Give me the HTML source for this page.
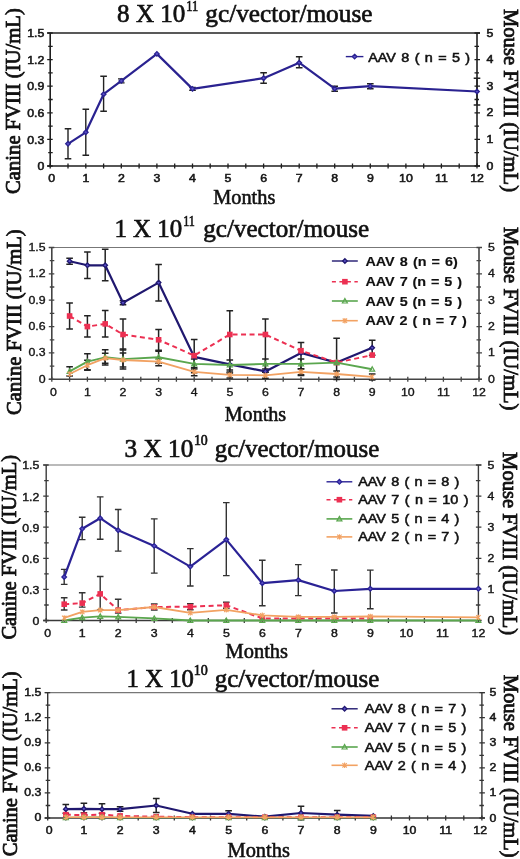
<!DOCTYPE html>
<html><head><meta charset="utf-8"><title>FVIII</title><style>
html,body{margin:0;padding:0;background:#fff;width:520px;height:859px;overflow:hidden}
svg{display:block;will-change:transform}
.tk{font-family:"Liberation Sans",sans-serif;font-size:11px;fill:#151515;stroke:#151515;stroke-width:0.7px}
.ti{font-family:"Liberation Serif",serif;font-size:24.5px;fill:#111;stroke:#111;stroke-width:0.65px}
.sup{font-family:"Liberation Serif",serif;font-size:14px;fill:#111;stroke:#111;stroke-width:0.6px}
.mo{font-family:"Liberation Serif",serif;font-size:20px;fill:#111;stroke:#111;stroke-width:0.55px}
.yl{font-family:"Liberation Serif",serif;font-size:20.5px;fill:#111;stroke:#111;stroke-width:0.8px}
.lg{font-family:"Liberation Sans",sans-serif;font-weight:bold;font-size:12px;fill:#111;stroke:#111;stroke-width:0.15px}
.lgl{font-family:"Liberation Sans",sans-serif;font-size:12px;fill:#111;stroke:#111;stroke-width:0.5px}
</style></head>
<body><svg width="520" height="859" viewBox="0 0 520 859">
<rect width="520" height="859" fill="#fff"/>
<line x1="47.2" y1="33" x2="480" y2="33" stroke="#222" stroke-width="1.6"/>
<line x1="50.2" y1="33" x2="50.2" y2="166" stroke="#1e1e1e" stroke-width="1.6"/>
<line x1="477" y1="33" x2="477" y2="166" stroke="#1e1e1e" stroke-width="1.6"/>
<line x1="47.2" y1="166" x2="480" y2="166" stroke="#1e1e1e" stroke-width="1.6"/>
<path d="M47.2 166H52.7M474.5 166H480M48.2 152.7H52.7M474.5 152.7H479M47.2 139.4H52.7M474.5 139.4H480M48.2 126.1H52.7M474.5 126.1H479M47.2 112.8H52.7M474.5 112.8H480M48.2 99.5H52.7M474.5 99.5H479M47.2 86.2H52.7M474.5 86.2H480M48.2 72.9H52.7M474.5 72.9H479M47.2 59.6H52.7M474.5 59.6H480M48.2 46.3H52.7M474.5 46.3H479M47.2 33H52.7M474.5 33H480M50.2 163.5V168.5M68 163.5V168.5M85.8 163.5V168.5M103.6 163.5V168.5M121.3 163.5V168.5M139.1 163.5V168.5M156.9 163.5V168.5M174.7 163.5V168.5M192.5 163.5V168.5M210.2 163.5V168.5M228 163.5V168.5M245.8 163.5V168.5M263.6 163.5V168.5M281.4 163.5V168.5M299.2 163.5V168.5M316.9 163.5V168.5M334.7 163.5V168.5M352.5 163.5V168.5M370.3 163.5V168.5M388.1 163.5V168.5M405.9 163.5V168.5M423.7 163.5V168.5M441.4 163.5V168.5M459.2 163.5V168.5M477 163.5V168.5" stroke="#1e1e1e" stroke-width="1.3" fill="none"/>
<text transform="translate(44.3,170.2) scale(1.12,1)" text-anchor="end" class="tk" style="stroke-width:0.55px">0</text>
<text transform="translate(44.3,143.6) scale(1.12,1)" text-anchor="end" class="tk" style="stroke-width:0.55px">0.3</text>
<text transform="translate(44.3,117) scale(1.12,1)" text-anchor="end" class="tk" style="stroke-width:0.55px">0.6</text>
<text transform="translate(44.3,90.4) scale(1.12,1)" text-anchor="end" class="tk" style="stroke-width:0.55px">0.9</text>
<text transform="translate(44.3,63.8) scale(1.12,1)" text-anchor="end" class="tk" style="stroke-width:0.55px">1.2</text>
<text transform="translate(44.3,37.2) scale(1.12,1)" text-anchor="end" class="tk" style="stroke-width:0.55px">1.5</text>
<text transform="translate(486.5,169.5) scale(1.12,1)" text-anchor="start" class="tk" style="stroke-width:0.55px">0</text>
<text transform="translate(486.5,142.9) scale(1.12,1)" text-anchor="start" class="tk" style="stroke-width:0.55px">1</text>
<text transform="translate(486.5,116.3) scale(1.12,1)" text-anchor="start" class="tk" style="stroke-width:0.55px">2</text>
<text transform="translate(486.5,89.7) scale(1.12,1)" text-anchor="start" class="tk" style="stroke-width:0.55px">3</text>
<text transform="translate(486.5,63.1) scale(1.12,1)" text-anchor="start" class="tk" style="stroke-width:0.55px">4</text>
<text transform="translate(486.5,36.5) scale(1.12,1)" text-anchor="start" class="tk" style="stroke-width:0.55px">5</text>
<text transform="translate(51.7,181.5) scale(1.12,1)" text-anchor="middle" class="tk" style="stroke-width:0.55px">0</text>
<text transform="translate(85.8,181.5) scale(1.12,1)" text-anchor="middle" class="tk" style="stroke-width:0.55px">1</text>
<text transform="translate(121.3,181.5) scale(1.12,1)" text-anchor="middle" class="tk" style="stroke-width:0.55px">2</text>
<text transform="translate(156.9,181.5) scale(1.12,1)" text-anchor="middle" class="tk" style="stroke-width:0.55px">3</text>
<text transform="translate(192.5,181.5) scale(1.12,1)" text-anchor="middle" class="tk" style="stroke-width:0.55px">4</text>
<text transform="translate(228,181.5) scale(1.12,1)" text-anchor="middle" class="tk" style="stroke-width:0.55px">5</text>
<text transform="translate(263.6,181.5) scale(1.12,1)" text-anchor="middle" class="tk" style="stroke-width:0.55px">6</text>
<text transform="translate(299.2,181.5) scale(1.12,1)" text-anchor="middle" class="tk" style="stroke-width:0.55px">7</text>
<text transform="translate(334.7,181.5) scale(1.12,1)" text-anchor="middle" class="tk" style="stroke-width:0.55px">8</text>
<text transform="translate(370.3,181.5) scale(1.12,1)" text-anchor="middle" class="tk" style="stroke-width:0.55px">9</text>
<text transform="translate(405.9,181.5) scale(1.12,1)" text-anchor="middle" class="tk" style="stroke-width:0.55px">10</text>
<text transform="translate(441.4,181.5) scale(1.12,1)" text-anchor="middle" class="tk" style="stroke-width:0.55px">11</text>
<text transform="translate(477,181.5) scale(1.12,1)" text-anchor="middle" class="tk" style="stroke-width:0.55px">12</text>
<text x="117.1" y="21.9" class="ti" textLength="68.31" lengthAdjust="spacingAndGlyphs">8 X 10</text>
<text x="186.3" y="10.8" class="sup" textLength="11.97" lengthAdjust="spacingAndGlyphs">11</text>
<text x="205.3" y="21.9" class="ti" textLength="167.16" lengthAdjust="spacingAndGlyphs">gc/vector/mouse</text>
<text x="213.2" y="203.8" class="mo" textLength="62.12" lengthAdjust="spacingAndGlyphs">Months</text>
<text transform="translate(20.3,193.9) rotate(-90)" class="yl" textLength="185.65" lengthAdjust="spacingAndGlyphs">Canine FVIII (IU/mL)</text>
<text transform="translate(504,9) rotate(90)" class="yl" textLength="183.00" lengthAdjust="spacingAndGlyphs">Mouse FVIII (IU/mL)</text>
<path d="M68 128.8V158.8M64.7 128.8H71.3M64.7 158.8H71.3M85.8 109.3V155.3M82.5 109.3H89.1M82.5 155.3H89.1M103.6 76.2V111.2M100.3 76.2H106.9M100.3 111.2H106.9M121.3 78.9V82.9M118 78.9H124.6M118 82.9H124.6M192.5 87.4V90.4M189.2 87.4H195.8M189.2 90.4H195.8M263.6 72.7V83.2M260.3 72.7H266.9M260.3 83.2H266.9M299.2 56.7V67.7M295.9 56.7H302.5M295.9 67.7H302.5M334.7 86.2V91.2M331.4 86.2H338M331.4 91.2H338M370.3 83.7V88.7M367 83.7H373.6M367 88.7H373.6M477 78.3V105M473.7 78.3H480.3M473.7 105H480.3" stroke="#222" stroke-width="1.4" fill="none"/>
<path d="M68 143.8L85.8 132.3L103.6 94.2L121.3 80.9L156.9 53.9L192.5 88.9L263.6 78.2L299.2 62.7L334.7 88.7L370.3 86.2L477 91.5" stroke="#2a2290" stroke-width="2.2" fill="none" stroke-linejoin="round"/>
<path d="M68 141.5L70.3 143.8L68 146.1L65.7 143.8Z" fill="#5a50c8" stroke="#2a2290" stroke-width="1.3"/>
<path d="M85.8 130L88.1 132.3L85.8 134.6L83.5 132.3Z" fill="#5a50c8" stroke="#2a2290" stroke-width="1.3"/>
<path d="M103.6 91.9L105.9 94.2L103.6 96.5L101.3 94.2Z" fill="#5a50c8" stroke="#2a2290" stroke-width="1.3"/>
<path d="M121.3 78.6L123.6 80.9L121.3 83.2L119 80.9Z" fill="#5a50c8" stroke="#2a2290" stroke-width="1.3"/>
<path d="M156.9 51.6L159.2 53.9L156.9 56.2L154.6 53.9Z" fill="#5a50c8" stroke="#2a2290" stroke-width="1.3"/>
<path d="M192.5 86.6L194.8 88.9L192.5 91.2L190.2 88.9Z" fill="#5a50c8" stroke="#2a2290" stroke-width="1.3"/>
<path d="M263.6 75.9L265.9 78.2L263.6 80.5L261.3 78.2Z" fill="#5a50c8" stroke="#2a2290" stroke-width="1.3"/>
<path d="M299.2 60.4L301.5 62.7L299.2 65L296.9 62.7Z" fill="#5a50c8" stroke="#2a2290" stroke-width="1.3"/>
<path d="M334.7 86.4L337 88.7L334.7 91L332.4 88.7Z" fill="#5a50c8" stroke="#2a2290" stroke-width="1.3"/>
<path d="M370.3 83.9L372.6 86.2L370.3 88.5L368 86.2Z" fill="#5a50c8" stroke="#2a2290" stroke-width="1.3"/>
<path d="M477 89.2L479.3 91.5L477 93.8L474.7 91.5Z" fill="#5a50c8" stroke="#2a2290" stroke-width="1.3"/>
<line x1="345.8" y1="56.6" x2="363.4" y2="56.6" stroke="#2a2290" stroke-width="1.4"/>
<path d="M354.6 54.3L356.9 56.6L354.6 58.9L352.3 56.6Z" fill="#5a50c8" stroke="#2a2290" stroke-width="1.3"/>
<text transform="translate(368.2,61.9) scale(1.2,1)" class="lgl" style="word-spacing:1.14px">AAV 8 ( n = 5 )</text>
<line x1="48.8" y1="247.5" x2="482" y2="247.5" stroke="#777" stroke-width="1.2"/>
<line x1="51.8" y1="247.5" x2="51.8" y2="379.3" stroke="#444" stroke-width="1.6"/>
<line x1="479" y1="247.5" x2="479" y2="379.3" stroke="#444" stroke-width="1.6"/>
<line x1="48.8" y1="379.3" x2="482" y2="379.3" stroke="#444" stroke-width="1.6"/>
<path d="M48.8 379.3H54.3M476.5 379.3H482M49.8 366.1H54.3M476.5 366.1H481M48.8 352.9H54.3M476.5 352.9H482M49.8 339.8H54.3M476.5 339.8H481M48.8 326.6H54.3M476.5 326.6H482M49.8 313.4H54.3M476.5 313.4H481M48.8 300.2H54.3M476.5 300.2H482M49.8 287H54.3M476.5 287H481M48.8 273.9H54.3M476.5 273.9H482M49.8 260.7H54.3M476.5 260.7H481M48.8 247.5H54.3M476.5 247.5H482M51.8 376.8V381.8M69.6 376.8V381.8M87.4 376.8V381.8M105.2 376.8V381.8M123 376.8V381.8M140.8 376.8V381.8M158.6 376.8V381.8M176.4 376.8V381.8M194.2 376.8V381.8M212 376.8V381.8M229.8 376.8V381.8M247.6 376.8V381.8M265.4 376.8V381.8M283.2 376.8V381.8M301 376.8V381.8M318.8 376.8V381.8M336.6 376.8V381.8M354.4 376.8V381.8M372.2 376.8V381.8M390 376.8V381.8M407.8 376.8V381.8M425.6 376.8V381.8M443.4 376.8V381.8M461.2 376.8V381.8M479 376.8V381.8" stroke="#444" stroke-width="1.3" fill="none"/>
<text transform="translate(45.5,382.7) scale(1.12,1)" text-anchor="end" class="tk" style="stroke-width:0.35px">0</text>
<text transform="translate(45.5,356.3) scale(1.12,1)" text-anchor="end" class="tk" style="stroke-width:0.35px">0.3</text>
<text transform="translate(45.5,330) scale(1.12,1)" text-anchor="end" class="tk" style="stroke-width:0.35px">0.6</text>
<text transform="translate(45.5,303.6) scale(1.12,1)" text-anchor="end" class="tk" style="stroke-width:0.35px">0.9</text>
<text transform="translate(45.5,277.3) scale(1.12,1)" text-anchor="end" class="tk" style="stroke-width:0.35px">1.2</text>
<text transform="translate(45.5,250.9) scale(1.12,1)" text-anchor="end" class="tk" style="stroke-width:0.35px">1.5</text>
<text transform="translate(488,382.8) scale(1.12,1)" text-anchor="start" class="tk" style="stroke-width:0.35px">0</text>
<text transform="translate(488,356.4) scale(1.12,1)" text-anchor="start" class="tk" style="stroke-width:0.35px">1</text>
<text transform="translate(488,330.1) scale(1.12,1)" text-anchor="start" class="tk" style="stroke-width:0.35px">2</text>
<text transform="translate(488,303.7) scale(1.12,1)" text-anchor="start" class="tk" style="stroke-width:0.35px">3</text>
<text transform="translate(488,277.4) scale(1.12,1)" text-anchor="start" class="tk" style="stroke-width:0.35px">4</text>
<text transform="translate(488,251) scale(1.12,1)" text-anchor="start" class="tk" style="stroke-width:0.35px">5</text>
<text transform="translate(53.3,395.7) scale(1.12,1)" text-anchor="middle" class="tk" style="stroke-width:0.35px">0</text>
<text transform="translate(87.4,395.7) scale(1.12,1)" text-anchor="middle" class="tk" style="stroke-width:0.35px">1</text>
<text transform="translate(123,395.7) scale(1.12,1)" text-anchor="middle" class="tk" style="stroke-width:0.35px">2</text>
<text transform="translate(158.6,395.7) scale(1.12,1)" text-anchor="middle" class="tk" style="stroke-width:0.35px">3</text>
<text transform="translate(194.2,395.7) scale(1.12,1)" text-anchor="middle" class="tk" style="stroke-width:0.35px">4</text>
<text transform="translate(229.8,395.7) scale(1.12,1)" text-anchor="middle" class="tk" style="stroke-width:0.35px">5</text>
<text transform="translate(265.4,395.7) scale(1.12,1)" text-anchor="middle" class="tk" style="stroke-width:0.35px">6</text>
<text transform="translate(301,395.7) scale(1.12,1)" text-anchor="middle" class="tk" style="stroke-width:0.35px">7</text>
<text transform="translate(336.6,395.7) scale(1.12,1)" text-anchor="middle" class="tk" style="stroke-width:0.35px">8</text>
<text transform="translate(372.2,395.7) scale(1.12,1)" text-anchor="middle" class="tk" style="stroke-width:0.35px">9</text>
<text transform="translate(407.8,395.7) scale(1.12,1)" text-anchor="middle" class="tk" style="stroke-width:0.35px">10</text>
<text transform="translate(443.4,395.7) scale(1.12,1)" text-anchor="middle" class="tk" style="stroke-width:0.35px">11</text>
<text transform="translate(479,395.7) scale(1.12,1)" text-anchor="middle" class="tk" style="stroke-width:0.35px">12</text>
<text x="114.4" y="236.6" class="ti" textLength="67.84" lengthAdjust="spacingAndGlyphs">1 X 10</text>
<text x="183.2" y="225.9" class="sup" textLength="11.62" lengthAdjust="spacingAndGlyphs">11</text>
<text x="203.2" y="236.6" class="ti" textLength="165.95" lengthAdjust="spacingAndGlyphs">gc/vector/mouse</text>
<text x="224.7" y="421" class="mo" textLength="61.51" lengthAdjust="spacingAndGlyphs">Months</text>
<text transform="translate(21.2,415) rotate(-90)" class="yl" textLength="185.75" lengthAdjust="spacingAndGlyphs">Canine FVIII (IU/mL)</text>
<text transform="translate(503.6,227.1) rotate(90)" class="yl" textLength="183.40" lengthAdjust="spacingAndGlyphs">Mouse FVIII (IU/mL)</text>
<path d="M69.6 258.2V264.2M66.3 258.2H72.9M66.3 264.2H72.9M87.4 251.9V278.5M84.1 251.9H90.7M84.1 278.5H90.7M105.2 249.3V280.8M101.9 249.3H108.5M101.9 280.8H108.5M123 300.7V304.7M119.7 300.7H126.3M119.7 304.7H126.3M158.6 264.6V301.1M155.3 264.6H161.9M155.3 301.1H161.9M372.2 340.2V355.2M368.9 340.2H375.5M368.9 355.2H375.5" stroke="#222" stroke-width="1.5" fill="none"/>
<path d="M69.6 303V329M66.3 303H72.9M66.3 329H72.9M87.4 315.8V337M84.1 315.8H90.7M84.1 337H90.7M105.2 310.5V337M101.9 310.5H108.5M101.9 337H108.5M123 318.9V350M119.7 318.9H126.3M119.7 350H126.3M158.6 329.4V350.2M155.3 329.4H161.9M155.3 350.2H161.9M194.2 339.4V372.8M190.9 339.4H197.5M190.9 372.8H197.5M229.8 310.8V373M226.5 310.8H233.1M226.5 373H233.1M265.4 318.9V372.2M262.1 318.9H268.7M262.1 372.2H268.7M301 342.4V375.4M297.7 342.4H304.3M297.7 375.4H304.3M336.6 338.3V379.6M333.3 338.3H339.9M333.3 379.6H339.9" stroke="#222" stroke-width="1.5" fill="none"/>
<path d="M69.6 366.8V376M66.3 366.8H72.9M66.3 376H72.9M87.4 353.7V369.7M84.1 353.7H90.7M84.1 369.7H90.7M105.2 349.7V364.9M101.9 349.7H108.5M101.9 364.9H108.5M123 349.1V369.1M119.7 349.1H126.3M119.7 369.1H126.3M158.6 351.3V363.3M155.3 351.3H161.9M155.3 363.3H161.9M194.2 358.9V368.9M190.9 358.9H197.5M190.9 368.9H197.5M229.8 360V370M226.5 360H233.1M226.5 370H233.1M265.4 358.9V368.9M262.1 358.9H268.7M262.1 368.9H268.7M301 358.9V368.9M297.7 358.9H304.3M297.7 368.9H304.3" stroke="#222" stroke-width="1.5" fill="none"/>
<path d="M87.4 360.2V370.2M84.1 360.2H90.7M84.1 370.2H90.7M105.2 353.2V363.2M101.9 353.2H108.5M101.9 363.2H108.5M123 353V367M119.7 353H126.3M119.7 367H126.3M158.6 357.7V365.7M155.3 357.7H161.9M155.3 365.7H161.9M194.2 367.8V375.8M190.9 367.8H197.5M190.9 375.8H197.5M229.8 371.9V377.9M226.5 371.9H233.1M226.5 377.9H233.1M265.4 372.3V378.3M262.1 372.3H268.7M262.1 378.3H268.7M301 368.8V374.8M297.7 368.8H304.3M297.7 374.8H304.3M336.6 371V377M333.3 371H339.9M333.3 377H339.9M372.2 373.9V379.9M368.9 373.9H375.5M368.9 379.9H375.5" stroke="#222" stroke-width="1.5" fill="none"/>
<path d="M69.6 261.2L87.4 265.3L105.2 265.3L123 302.7L158.6 282.6L194.2 356.9L229.8 364.4L265.4 371.4L301 352.9L336.6 362.6L372.2 347.7" stroke="#20186f" stroke-width="2.2" fill="none" stroke-linejoin="round"/>
<path d="M69.6 258.9L71.9 261.2L69.6 263.5L67.3 261.2Z" fill="#5a50c8" stroke="#20186f" stroke-width="1.3"/>
<path d="M87.4 263L89.7 265.3L87.4 267.6L85.1 265.3Z" fill="#5a50c8" stroke="#20186f" stroke-width="1.3"/>
<path d="M105.2 263L107.5 265.3L105.2 267.6L102.9 265.3Z" fill="#5a50c8" stroke="#20186f" stroke-width="1.3"/>
<path d="M123 300.4L125.3 302.7L123 305L120.7 302.7Z" fill="#5a50c8" stroke="#20186f" stroke-width="1.3"/>
<path d="M158.6 280.3L160.9 282.6L158.6 284.9L156.3 282.6Z" fill="#5a50c8" stroke="#20186f" stroke-width="1.3"/>
<path d="M194.2 354.6L196.5 356.9L194.2 359.2L191.9 356.9Z" fill="#5a50c8" stroke="#20186f" stroke-width="1.3"/>
<path d="M229.8 362.1L232.1 364.4L229.8 366.7L227.5 364.4Z" fill="#5a50c8" stroke="#20186f" stroke-width="1.3"/>
<path d="M265.4 369.1L267.7 371.4L265.4 373.7L263.1 371.4Z" fill="#5a50c8" stroke="#20186f" stroke-width="1.3"/>
<path d="M301 350.6L303.3 352.9L301 355.2L298.7 352.9Z" fill="#5a50c8" stroke="#20186f" stroke-width="1.3"/>
<path d="M336.6 360.3L338.9 362.6L336.6 364.9L334.3 362.6Z" fill="#5a50c8" stroke="#20186f" stroke-width="1.3"/>
<path d="M372.2 345.4L374.5 347.7L372.2 350L369.9 347.7Z" fill="#5a50c8" stroke="#20186f" stroke-width="1.3"/>
<path d="M69.6 316L87.4 326.6L105.2 323.9L123 334.5L158.6 339.8L194.2 355.6L229.8 334.5L265.4 334.5L301 350.7L336.6 362.6L372.2 355.1" stroke="#ec3052" stroke-width="2" fill="none" stroke-linejoin="round" stroke-dasharray="5 3.5"/>
<rect x="66.8" y="313.2" width="5.6" height="5.6" fill="#ec3052"/>
<rect x="84.6" y="323.8" width="5.6" height="5.6" fill="#ec3052"/>
<rect x="102.4" y="321.1" width="5.6" height="5.6" fill="#ec3052"/>
<rect x="120.2" y="331.7" width="5.6" height="5.6" fill="#ec3052"/>
<rect x="155.8" y="337" width="5.6" height="5.6" fill="#ec3052"/>
<rect x="191.4" y="352.8" width="5.6" height="5.6" fill="#ec3052"/>
<rect x="227" y="331.7" width="5.6" height="5.6" fill="#ec3052"/>
<rect x="262.6" y="331.7" width="5.6" height="5.6" fill="#ec3052"/>
<rect x="298.2" y="347.9" width="5.6" height="5.6" fill="#ec3052"/>
<rect x="333.8" y="359.8" width="5.6" height="5.6" fill="#ec3052"/>
<rect x="369.4" y="352.3" width="5.6" height="5.6" fill="#ec3052"/>
<path d="M69.6 371.4L87.4 361.7L105.2 357.3L123 359.1L158.6 357.3L194.2 363.9L229.8 365L265.4 363.9L301 363.9L336.6 362.6L372.2 369.2" stroke="#5aa64e" stroke-width="1.9" fill="none" stroke-linejoin="round"/>
<path d="M69.6 368.9L72.1 373.4L67.1 373.4Z" fill="none" stroke="#5aa64e" stroke-width="1.2"/>
<path d="M87.4 359.2L89.9 363.7L84.9 363.7Z" fill="none" stroke="#5aa64e" stroke-width="1.2"/>
<path d="M105.2 354.8L107.7 359.3L102.7 359.3Z" fill="none" stroke="#5aa64e" stroke-width="1.2"/>
<path d="M123 356.6L125.5 361.1L120.5 361.1Z" fill="none" stroke="#5aa64e" stroke-width="1.2"/>
<path d="M158.6 354.8L161.1 359.3L156.1 359.3Z" fill="none" stroke="#5aa64e" stroke-width="1.2"/>
<path d="M194.2 361.4L196.7 365.9L191.7 365.9Z" fill="none" stroke="#5aa64e" stroke-width="1.2"/>
<path d="M229.8 362.5L232.3 367L227.3 367Z" fill="none" stroke="#5aa64e" stroke-width="1.2"/>
<path d="M265.4 361.4L267.9 365.9L262.9 365.9Z" fill="none" stroke="#5aa64e" stroke-width="1.2"/>
<path d="M301 361.4L303.5 365.9L298.5 365.9Z" fill="none" stroke="#5aa64e" stroke-width="1.2"/>
<path d="M336.6 360.1L339.1 364.6L334.1 364.6Z" fill="none" stroke="#5aa64e" stroke-width="1.2"/>
<path d="M372.2 366.7L374.7 371.2L369.7 371.2Z" fill="none" stroke="#5aa64e" stroke-width="1.2"/>
<path d="M69.6 374L87.4 365.2L105.2 358.2L123 360L158.6 361.7L194.2 371.8L229.8 374.9L265.4 375.3L301 371.8L336.6 374L372.2 376.9" stroke="#f2a263" stroke-width="1.8" fill="none" stroke-linejoin="round"/>
<path d="M67.4 371.8L71.8 376.2M71.8 371.8L67.4 376.2M69.6 371.3V376.7" stroke="#f2a263" stroke-width="1.1" fill="none"/>
<path d="M85.2 363L89.6 367.4M89.6 363L85.2 367.4M87.4 362.5V367.9" stroke="#f2a263" stroke-width="1.1" fill="none"/>
<path d="M103 356L107.4 360.4M107.4 356L103 360.4M105.2 355.5V360.9" stroke="#f2a263" stroke-width="1.1" fill="none"/>
<path d="M120.8 357.8L125.2 362.2M125.2 357.8L120.8 362.2M123 357.3V362.7" stroke="#f2a263" stroke-width="1.1" fill="none"/>
<path d="M156.4 359.5L160.8 363.9M160.8 359.5L156.4 363.9M158.6 359V364.4" stroke="#f2a263" stroke-width="1.1" fill="none"/>
<path d="M192 369.6L196.4 374M196.4 369.6L192 374M194.2 369.1V374.5" stroke="#f2a263" stroke-width="1.1" fill="none"/>
<path d="M227.6 372.7L232 377.1M232 372.7L227.6 377.1M229.8 372.2V377.6" stroke="#f2a263" stroke-width="1.1" fill="none"/>
<path d="M263.2 373.1L267.6 377.5M267.6 373.1L263.2 377.5M265.4 372.6V378" stroke="#f2a263" stroke-width="1.1" fill="none"/>
<path d="M298.8 369.6L303.2 374M303.2 369.6L298.8 374M301 369.1V374.5" stroke="#f2a263" stroke-width="1.1" fill="none"/>
<path d="M334.4 371.8L338.8 376.2M338.8 371.8L334.4 376.2M336.6 371.3V376.7" stroke="#f2a263" stroke-width="1.1" fill="none"/>
<path d="M370 374.7L374.4 379.1M374.4 374.7L370 379.1M372.2 374.2V379.6" stroke="#f2a263" stroke-width="1.1" fill="none"/>
<line x1="331.9" y1="261" x2="357.8" y2="261" stroke="#20186f" stroke-width="1.4"/>
<path d="M344.9 258.7L347.2 261L344.9 263.3L342.6 261Z" fill="#5a50c8" stroke="#20186f" stroke-width="1.3"/>
<text transform="translate(365.4,265.5) scale(1.2,1)" class="lg" style="word-spacing:0.91px">AAV 8 (n = 6)</text>
<line x1="331.9" y1="281.7" x2="357.8" y2="281.7" stroke="#ec3052" stroke-width="1.6" stroke-dasharray="4 3.5"/>
<rect x="342.1" y="278.9" width="5.6" height="5.6" fill="#ec3052"/>
<text transform="translate(365.4,286.2) scale(1.2,1)" class="lg" style="word-spacing:0.76px">AAV 7 (n = 5 )</text>
<line x1="331.9" y1="301" x2="357.8" y2="301" stroke="#5aa64e" stroke-width="1.6"/>
<path d="M344.9 298.5L347.4 303L342.4 303Z" fill="none" stroke="#5aa64e" stroke-width="1.2"/>
<text transform="translate(365.4,305.5) scale(1.2,1)" class="lg" style="word-spacing:0.76px">AAV 5 (n = 5 )</text>
<line x1="331.9" y1="320.7" x2="357.8" y2="320.7" stroke="#f2a263" stroke-width="1.6"/>
<path d="M342.7 318.5L347.1 322.9M347.1 318.5L342.7 322.9M344.9 318V323.4" stroke="#f2a263" stroke-width="1.1" fill="none"/>
<text transform="translate(365.4,325.2) scale(1.2,1)" class="lg" style="word-spacing:0.73px">AAV 2 ( n = 7 )</text>
<line x1="43.2" y1="465" x2="481.4" y2="465" stroke="#777" stroke-width="1.2"/>
<line x1="46.2" y1="465" x2="46.2" y2="620.5" stroke="#3a3a3a" stroke-width="1.4"/>
<line x1="478.4" y1="465" x2="478.4" y2="620.5" stroke="#3a3a3a" stroke-width="1.4"/>
<line x1="43.2" y1="620.5" x2="481.4" y2="620.5" stroke="#3a3a3a" stroke-width="1.4"/>
<path d="M43.2 620.5H48.7M475.9 620.5H481.4M44.2 605H48.7M475.9 605H480.4M43.2 589.4H48.7M475.9 589.4H481.4M44.2 573.9H48.7M475.9 573.9H480.4M43.2 558.3H48.7M475.9 558.3H481.4M44.2 542.8H48.7M475.9 542.8H480.4M43.2 527.2H48.7M475.9 527.2H481.4M44.2 511.6H48.7M475.9 511.6H480.4M43.2 496.1H48.7M475.9 496.1H481.4M44.2 480.6H48.7M475.9 480.6H480.4M43.2 465H48.7M475.9 465H481.4M46.2 618V623M64.2 618V623M82.2 618V623M100.2 618V623M118.2 618V623M136.2 618V623M154.2 618V623M172.3 618V623M190.3 618V623M208.3 618V623M226.3 618V623M244.3 618V623M262.3 618V623M280.3 618V623M298.3 618V623M316.3 618V623M334.3 618V623M352.3 618V623M370.3 618V623M388.4 618V623M406.4 618V623M424.4 618V623M442.4 618V623M460.4 618V623M478.4 618V623" stroke="#3a3a3a" stroke-width="1.3" fill="none"/>
<text transform="translate(39.3,624.9) scale(1.12,1)" text-anchor="end" class="tk" style="stroke-width:0.4px">0</text>
<text transform="translate(39.3,593.8) scale(1.12,1)" text-anchor="end" class="tk" style="stroke-width:0.4px">0.3</text>
<text transform="translate(39.3,562.7) scale(1.12,1)" text-anchor="end" class="tk" style="stroke-width:0.4px">0.6</text>
<text transform="translate(39.3,531.6) scale(1.12,1)" text-anchor="end" class="tk" style="stroke-width:0.4px">0.9</text>
<text transform="translate(39.3,500.5) scale(1.12,1)" text-anchor="end" class="tk" style="stroke-width:0.4px">1.2</text>
<text transform="translate(39.3,469.4) scale(1.12,1)" text-anchor="end" class="tk" style="stroke-width:0.4px">1.5</text>
<text transform="translate(487.4,624) scale(1.12,1)" text-anchor="start" class="tk" style="stroke-width:0.4px">0</text>
<text transform="translate(487.4,592.9) scale(1.12,1)" text-anchor="start" class="tk" style="stroke-width:0.4px">1</text>
<text transform="translate(487.4,561.8) scale(1.12,1)" text-anchor="start" class="tk" style="stroke-width:0.4px">2</text>
<text transform="translate(487.4,530.7) scale(1.12,1)" text-anchor="start" class="tk" style="stroke-width:0.4px">3</text>
<text transform="translate(487.4,499.6) scale(1.12,1)" text-anchor="start" class="tk" style="stroke-width:0.4px">4</text>
<text transform="translate(487.4,468.5) scale(1.12,1)" text-anchor="start" class="tk" style="stroke-width:0.4px">5</text>
<text transform="translate(47.7,636.7) scale(1.12,1)" text-anchor="middle" class="tk" style="stroke-width:0.4px">0</text>
<text transform="translate(82.2,636.7) scale(1.12,1)" text-anchor="middle" class="tk" style="stroke-width:0.4px">1</text>
<text transform="translate(118.2,636.7) scale(1.12,1)" text-anchor="middle" class="tk" style="stroke-width:0.4px">2</text>
<text transform="translate(154.2,636.7) scale(1.12,1)" text-anchor="middle" class="tk" style="stroke-width:0.4px">3</text>
<text transform="translate(190.3,636.7) scale(1.12,1)" text-anchor="middle" class="tk" style="stroke-width:0.4px">4</text>
<text transform="translate(226.3,636.7) scale(1.12,1)" text-anchor="middle" class="tk" style="stroke-width:0.4px">5</text>
<text transform="translate(262.3,636.7) scale(1.12,1)" text-anchor="middle" class="tk" style="stroke-width:0.4px">6</text>
<text transform="translate(298.3,636.7) scale(1.12,1)" text-anchor="middle" class="tk" style="stroke-width:0.4px">7</text>
<text transform="translate(334.3,636.7) scale(1.12,1)" text-anchor="middle" class="tk" style="stroke-width:0.4px">8</text>
<text transform="translate(370.3,636.7) scale(1.12,1)" text-anchor="middle" class="tk" style="stroke-width:0.4px">9</text>
<text transform="translate(406.4,636.7) scale(1.12,1)" text-anchor="middle" class="tk" style="stroke-width:0.4px">10</text>
<text transform="translate(442.4,636.7) scale(1.12,1)" text-anchor="middle" class="tk" style="stroke-width:0.4px">11</text>
<text transform="translate(478.4,636.7) scale(1.12,1)" text-anchor="middle" class="tk" style="stroke-width:0.4px">12</text>
<text x="124.6" y="456.7" class="ti" textLength="68.77" lengthAdjust="spacingAndGlyphs">3 X 10</text>
<text x="193.9" y="445.1" class="sup" textLength="13.84" lengthAdjust="spacingAndGlyphs">10</text>
<text x="214.7" y="456.7" class="ti" textLength="164.53" lengthAdjust="spacingAndGlyphs">gc/vector/mouse</text>
<text x="225.6" y="658" class="mo" textLength="62.43" lengthAdjust="spacingAndGlyphs">Months</text>
<text transform="translate(16,639.6) rotate(-90)" class="yl" textLength="184.74" lengthAdjust="spacingAndGlyphs">Canine FVIII (IU/mL)</text>
<text transform="translate(502.8,452.1) rotate(90)" class="yl" textLength="183.00" lengthAdjust="spacingAndGlyphs">Mouse FVIII (IU/mL)</text>
<path d="M64.2 569.4V584.4M60.9 569.4H67.5M60.9 584.4H67.5M82.2 517.2V539.6M78.9 517.2H85.5M78.9 539.6H85.5M100.2 496.9V539.2M96.9 496.9H103.5M96.9 539.2H103.5M118.2 509.5V551.1M114.9 509.5H121.5M114.9 551.1H121.5M154.2 518.9V573.1M150.9 518.9H157.6M150.9 573.1H157.6M190.3 548.6V586M187 548.6H193.6M187 586H193.6M226.3 502.6V575.6M223 502.6H229.6M223 575.6H229.6M262.3 560.2V605.8M259 560.2H265.6M259 605.8H265.6M298.3 564.6V595.6M295 564.6H301.6M295 595.6H301.6M334.3 570V613M331 570H337.6M331 613H337.6M370.3 570.1V608.8M367 570.1H373.6M367 608.8H373.6" stroke="#333" stroke-width="1.4" fill="none"/>
<path d="M64.2 597.8V610M60.9 597.8H67.5M60.9 610H67.5M82.2 592.7V607.1M78.9 592.7H85.5M78.9 607.1H85.5M100.2 576.5V610M96.9 576.5H103.5M96.9 610H103.5M118.2 599.3V613.1M114.9 599.3H121.5M114.9 613.1H121.5M154.2 604V610M150.9 604H157.6M150.9 610H157.6M190.3 603.7V609.7M187 603.7H193.6M187 609.7H193.6M226.3 602.2V608.2M223 602.2H229.6M223 608.2H229.6" stroke="#333" stroke-width="1.4" fill="none"/>
<path d="M64.2 577L82.2 528.8L100.2 518.2L118.2 530.3L154.2 545.9L190.3 566.6L226.3 539.6L262.3 583.2L298.3 580.1L334.3 591L370.3 588.8L478.4 588.8" stroke="#2a2295" stroke-width="2.2" fill="none" stroke-linejoin="round"/>
<path d="M64.2 574.7L66.5 577L64.2 579.3L61.9 577Z" fill="#5a50c8" stroke="#2a2295" stroke-width="1.3"/>
<path d="M82.2 526.5L84.5 528.8L82.2 531.1L79.9 528.8Z" fill="#5a50c8" stroke="#2a2295" stroke-width="1.3"/>
<path d="M100.2 515.9L102.5 518.2L100.2 520.5L97.9 518.2Z" fill="#5a50c8" stroke="#2a2295" stroke-width="1.3"/>
<path d="M118.2 528L120.5 530.3L118.2 532.6L115.9 530.3Z" fill="#5a50c8" stroke="#2a2295" stroke-width="1.3"/>
<path d="M154.2 543.6L156.6 545.9L154.2 548.2L151.9 545.9Z" fill="#5a50c8" stroke="#2a2295" stroke-width="1.3"/>
<path d="M190.3 564.3L192.6 566.6L190.3 568.9L188 566.6Z" fill="#5a50c8" stroke="#2a2295" stroke-width="1.3"/>
<path d="M226.3 537.3L228.6 539.6L226.3 541.9L224 539.6Z" fill="#5a50c8" stroke="#2a2295" stroke-width="1.3"/>
<path d="M262.3 580.9L264.6 583.2L262.3 585.5L260 583.2Z" fill="#5a50c8" stroke="#2a2295" stroke-width="1.3"/>
<path d="M298.3 577.8L300.6 580.1L298.3 582.4L296 580.1Z" fill="#5a50c8" stroke="#2a2295" stroke-width="1.3"/>
<path d="M334.3 588.7L336.6 591L334.3 593.3L332 591Z" fill="#5a50c8" stroke="#2a2295" stroke-width="1.3"/>
<path d="M370.3 586.5L372.6 588.8L370.3 591.1L368 588.8Z" fill="#5a50c8" stroke="#2a2295" stroke-width="1.3"/>
<path d="M478.4 586.5L480.7 588.8L478.4 591.1L476.1 588.8Z" fill="#5a50c8" stroke="#2a2295" stroke-width="1.3"/>
<path d="M64.2 604.2L82.2 603.1L100.2 593.9L118.2 610.1L154.2 607L190.3 606.7L226.3 605.2L262.3 618.4L298.3 618.4L334.3 618.4L370.3 618.4" stroke="#ec3052" stroke-width="2" fill="none" stroke-linejoin="round" stroke-dasharray="5 3.5"/>
<rect x="61.4" y="601.4" width="5.6" height="5.6" fill="#ec3052"/>
<rect x="79.4" y="600.3" width="5.6" height="5.6" fill="#ec3052"/>
<rect x="97.4" y="591.1" width="5.6" height="5.6" fill="#ec3052"/>
<rect x="115.4" y="607.3" width="5.6" height="5.6" fill="#ec3052"/>
<rect x="151.4" y="604.2" width="5.6" height="5.6" fill="#ec3052"/>
<rect x="187.5" y="603.9" width="5.6" height="5.6" fill="#ec3052"/>
<rect x="223.5" y="602.4" width="5.6" height="5.6" fill="#ec3052"/>
<rect x="259.5" y="615.6" width="5.6" height="5.6" fill="#ec3052"/>
<rect x="295.5" y="615.6" width="5.6" height="5.6" fill="#ec3052"/>
<rect x="331.5" y="615.6" width="5.6" height="5.6" fill="#ec3052"/>
<rect x="367.5" y="615.6" width="5.6" height="5.6" fill="#ec3052"/>
<path d="M64.2 620.5L82.2 617.6L100.2 616.4L118.2 616.9L154.2 618.4L190.3 620.5L226.3 620.5L262.3 620.5L298.3 620.5L334.3 620.5L370.3 620.5L478.4 620.5" stroke="#5aa64e" stroke-width="1.9" fill="none" stroke-linejoin="round"/>
<path d="M64.2 618L66.7 622.5L61.7 622.5Z" fill="none" stroke="#5aa64e" stroke-width="1.2"/>
<path d="M82.2 615.1L84.7 619.6L79.7 619.6Z" fill="none" stroke="#5aa64e" stroke-width="1.2"/>
<path d="M100.2 613.9L102.7 618.4L97.7 618.4Z" fill="none" stroke="#5aa64e" stroke-width="1.2"/>
<path d="M118.2 614.4L120.7 618.9L115.7 618.9Z" fill="none" stroke="#5aa64e" stroke-width="1.2"/>
<path d="M154.2 615.9L156.8 620.4L151.8 620.4Z" fill="none" stroke="#5aa64e" stroke-width="1.2"/>
<path d="M190.3 618L192.8 622.5L187.8 622.5Z" fill="none" stroke="#5aa64e" stroke-width="1.2"/>
<path d="M226.3 618L228.8 622.5L223.8 622.5Z" fill="none" stroke="#5aa64e" stroke-width="1.2"/>
<path d="M262.3 618L264.8 622.5L259.8 622.5Z" fill="none" stroke="#5aa64e" stroke-width="1.2"/>
<path d="M298.3 618L300.8 622.5L295.8 622.5Z" fill="none" stroke="#5aa64e" stroke-width="1.2"/>
<path d="M334.3 618L336.8 622.5L331.8 622.5Z" fill="none" stroke="#5aa64e" stroke-width="1.2"/>
<path d="M370.3 618L372.8 622.5L367.8 622.5Z" fill="none" stroke="#5aa64e" stroke-width="1.2"/>
<path d="M478.4 618L480.9 622.5L475.9 622.5Z" fill="none" stroke="#5aa64e" stroke-width="1.2"/>
<path d="M64.2 617.9L82.2 611.9L100.2 610.1L118.2 610.1L154.2 607L190.3 612.9L226.3 609.8L262.3 615.3L298.3 616.9L334.3 616.9L370.3 616.4L478.4 617.4" stroke="#f2a263" stroke-width="1.8" fill="none" stroke-linejoin="round"/>
<path d="M62 615.7L66.4 620.1M66.4 615.7L62 620.1M64.2 615.2V620.6" stroke="#f2a263" stroke-width="1.1" fill="none"/>
<path d="M80 609.7L84.4 614.1M84.4 609.7L80 614.1M82.2 609.2V614.6" stroke="#f2a263" stroke-width="1.1" fill="none"/>
<path d="M98 607.9L102.4 612.3M102.4 607.9L98 612.3M100.2 607.4V612.8" stroke="#f2a263" stroke-width="1.1" fill="none"/>
<path d="M116 607.9L120.4 612.3M120.4 607.9L116 612.3M118.2 607.4V612.8" stroke="#f2a263" stroke-width="1.1" fill="none"/>
<path d="M152.1 604.8L156.4 609.2M156.4 604.8L152.1 609.2M154.2 604.3V609.7" stroke="#f2a263" stroke-width="1.1" fill="none"/>
<path d="M188.1 610.7L192.5 615.1M192.5 610.7L188.1 615.1M190.3 610.2V615.6" stroke="#f2a263" stroke-width="1.1" fill="none"/>
<path d="M224.1 607.6L228.5 612M228.5 607.6L224.1 612M226.3 607.1V612.5" stroke="#f2a263" stroke-width="1.1" fill="none"/>
<path d="M260.1 613.1L264.5 617.5M264.5 613.1L260.1 617.5M262.3 612.6V618" stroke="#f2a263" stroke-width="1.1" fill="none"/>
<path d="M296.1 614.7L300.5 619.1M300.5 614.7L296.1 619.1M298.3 614.2V619.6" stroke="#f2a263" stroke-width="1.1" fill="none"/>
<path d="M332.1 614.7L336.5 619.1M336.5 614.7L332.1 619.1M334.3 614.2V619.6" stroke="#f2a263" stroke-width="1.1" fill="none"/>
<path d="M368.1 614.2L372.5 618.6M372.5 614.2L368.1 618.6M370.3 613.7V619.1" stroke="#f2a263" stroke-width="1.1" fill="none"/>
<path d="M476.2 615.2L480.6 619.6M480.6 615.2L476.2 619.6M478.4 614.7V620.1" stroke="#f2a263" stroke-width="1.1" fill="none"/>
<line x1="326.5" y1="481.8" x2="352.3" y2="481.8" stroke="#2a2295" stroke-width="1.4"/>
<path d="M339.4 479.5L341.7 481.8L339.4 484.1L337.1 481.8Z" fill="#5a50c8" stroke="#2a2295" stroke-width="1.3"/>
<text transform="translate(358.2,486.3) scale(1.2,1)" class="lgl" style="word-spacing:1.02px">AAV 8 ( n = 8 )</text>
<line x1="326.5" y1="499.7" x2="352.3" y2="499.7" stroke="#ec3052" stroke-width="1.6" stroke-dasharray="4 3.5"/>
<rect x="336.6" y="496.9" width="5.6" height="5.6" fill="#ec3052"/>
<text transform="translate(358.2,504.2) scale(1.2,1)" class="lgl" style="word-spacing:1.19px">AAV 7 ( n = 10 )</text>
<line x1="326.5" y1="518.9" x2="352.3" y2="518.9" stroke="#5aa64e" stroke-width="1.6"/>
<path d="M339.4 516.4L341.9 520.9L336.9 520.9Z" fill="none" stroke="#5aa64e" stroke-width="1.2"/>
<text transform="translate(358.2,523.4) scale(1.2,1)" class="lgl" style="word-spacing:1.02px">AAV 5 ( n = 4 )</text>
<line x1="326.5" y1="536.9" x2="352.3" y2="536.9" stroke="#f2a263" stroke-width="1.6"/>
<path d="M337.2 534.7L341.6 539.1M341.6 534.7L337.2 539.1M339.4 534.2V539.6" stroke="#f2a263" stroke-width="1.1" fill="none"/>
<text transform="translate(358.2,541.4) scale(1.2,1)" class="lgl" style="word-spacing:1.02px">AAV 2 ( n = 7 )</text>
<line x1="44.7" y1="692.6" x2="484.9" y2="692.6" stroke="#777" stroke-width="1.2"/>
<line x1="47.7" y1="692.6" x2="47.7" y2="818" stroke="#333" stroke-width="1.4"/>
<line x1="481.9" y1="692.6" x2="481.9" y2="818" stroke="#333" stroke-width="1.4"/>
<line x1="44.7" y1="818" x2="484.9" y2="818" stroke="#333" stroke-width="1.4"/>
<path d="M44.7 818H50.2M479.4 818H484.9M45.7 805.5H50.2M479.4 805.5H483.9M44.7 792.9H50.2M479.4 792.9H484.9M45.7 780.4H50.2M479.4 780.4H483.9M44.7 767.8H50.2M479.4 767.8H484.9M45.7 755.3H50.2M479.4 755.3H483.9M44.7 742.8H50.2M479.4 742.8H484.9M45.7 730.2H50.2M479.4 730.2H483.9M44.7 717.7H50.2M479.4 717.7H484.9M45.7 705.1H50.2M479.4 705.1H483.9M44.7 692.6H50.2M479.4 692.6H484.9M47.7 815.5V820.5M65.8 815.5V820.5M83.9 815.5V820.5M102 815.5V820.5M120.1 815.5V820.5M138.2 815.5V820.5M156.2 815.5V820.5M174.3 815.5V820.5M192.4 815.5V820.5M210.5 815.5V820.5M228.6 815.5V820.5M246.7 815.5V820.5M264.8 815.5V820.5M282.9 815.5V820.5M301 815.5V820.5M319.1 815.5V820.5M337.2 815.5V820.5M355.3 815.5V820.5M373.3 815.5V820.5M391.4 815.5V820.5M409.5 815.5V820.5M427.6 815.5V820.5M445.7 815.5V820.5M463.8 815.5V820.5M481.9 815.5V820.5" stroke="#333" stroke-width="1.3" fill="none"/>
<text transform="translate(41.3,821.4) scale(1.12,1)" text-anchor="end" class="tk" style="stroke-width:0.5px">0</text>
<text transform="translate(41.3,796.3) scale(1.12,1)" text-anchor="end" class="tk" style="stroke-width:0.5px">0.3</text>
<text transform="translate(41.3,771.2) scale(1.12,1)" text-anchor="end" class="tk" style="stroke-width:0.5px">0.6</text>
<text transform="translate(41.3,746.2) scale(1.12,1)" text-anchor="end" class="tk" style="stroke-width:0.5px">0.9</text>
<text transform="translate(41.3,721.1) scale(1.12,1)" text-anchor="end" class="tk" style="stroke-width:0.5px">1.2</text>
<text transform="translate(41.3,696) scale(1.12,1)" text-anchor="end" class="tk" style="stroke-width:0.5px">1.5</text>
<text transform="translate(489.6,821.5) scale(1.12,1)" text-anchor="start" class="tk" style="stroke-width:0.5px">0</text>
<text transform="translate(489.6,796.4) scale(1.12,1)" text-anchor="start" class="tk" style="stroke-width:0.5px">1</text>
<text transform="translate(489.6,771.3) scale(1.12,1)" text-anchor="start" class="tk" style="stroke-width:0.5px">2</text>
<text transform="translate(489.6,746.3) scale(1.12,1)" text-anchor="start" class="tk" style="stroke-width:0.5px">3</text>
<text transform="translate(489.6,721.2) scale(1.12,1)" text-anchor="start" class="tk" style="stroke-width:0.5px">4</text>
<text transform="translate(489.6,696.1) scale(1.12,1)" text-anchor="start" class="tk" style="stroke-width:0.5px">5</text>
<text transform="translate(49.2,834.1) scale(1.12,1)" text-anchor="middle" class="tk" style="stroke-width:0.5px">0</text>
<text transform="translate(83.9,834.1) scale(1.12,1)" text-anchor="middle" class="tk" style="stroke-width:0.5px">1</text>
<text transform="translate(120.1,834.1) scale(1.12,1)" text-anchor="middle" class="tk" style="stroke-width:0.5px">2</text>
<text transform="translate(156.2,834.1) scale(1.12,1)" text-anchor="middle" class="tk" style="stroke-width:0.5px">3</text>
<text transform="translate(192.4,834.1) scale(1.12,1)" text-anchor="middle" class="tk" style="stroke-width:0.5px">4</text>
<text transform="translate(228.6,834.1) scale(1.12,1)" text-anchor="middle" class="tk" style="stroke-width:0.5px">5</text>
<text transform="translate(264.8,834.1) scale(1.12,1)" text-anchor="middle" class="tk" style="stroke-width:0.5px">6</text>
<text transform="translate(301,834.1) scale(1.12,1)" text-anchor="middle" class="tk" style="stroke-width:0.5px">7</text>
<text transform="translate(337.2,834.1) scale(1.12,1)" text-anchor="middle" class="tk" style="stroke-width:0.5px">8</text>
<text transform="translate(373.3,834.1) scale(1.12,1)" text-anchor="middle" class="tk" style="stroke-width:0.5px">9</text>
<text transform="translate(409.5,834.1) scale(1.12,1)" text-anchor="middle" class="tk" style="stroke-width:0.5px">10</text>
<text transform="translate(445.7,834.1) scale(1.12,1)" text-anchor="middle" class="tk" style="stroke-width:0.5px">11</text>
<text transform="translate(480.2,834.1) scale(1.12,1)" text-anchor="middle" class="tk" style="stroke-width:0.5px">12</text>
<text x="126.5" y="686.5" class="ti" textLength="67.42" lengthAdjust="spacingAndGlyphs">1 X 10</text>
<text x="193.7" y="674.8" class="sup" textLength="14.07" lengthAdjust="spacingAndGlyphs">10</text>
<text x="214.7" y="686.5" class="ti" textLength="164.53" lengthAdjust="spacingAndGlyphs">gc/vector/mouse</text>
<text x="227.5" y="856.8" class="mo" textLength="62.32" lengthAdjust="spacingAndGlyphs">Months</text>
<text transform="translate(16.7,856.2) rotate(-90)" class="yl" textLength="184.85" lengthAdjust="spacingAndGlyphs">Canine FVIII (IU/mL)</text>
<text transform="translate(504.3,674.8) rotate(90)" class="yl" textLength="182.80" lengthAdjust="spacingAndGlyphs">Mouse FVIII (IU/mL)</text>
<path d="M65.8 804.6V813.2M62.5 804.6H69.1M62.5 813.2H69.1M83.9 803.2V812.8M80.6 803.2H87.2M80.6 812.8H87.2M102 803.7V813.2M98.7 803.7H105.3M98.7 813.2H105.3M120.1 806.7V811.2M116.8 806.7H123.4M116.8 811.2H123.4M156.2 798.5V812.5M152.9 798.5H159.6M152.9 812.5H159.6M228.6 810.8V816.8M225.3 810.8H231.9M225.3 816.8H231.9M301 806.2V819.8M297.7 806.2H304.3M297.7 819.8H304.3M337.2 810.5V818.9M333.9 810.5H340.5M333.9 818.9H340.5" stroke="#222" stroke-width="1.5" fill="none"/>
<path d="M65.8 809.2L83.9 808.8L102 809.2L120.1 809.2L156.2 805.5L192.4 813.8L228.6 813.8L264.8 816.7L301 813L337.2 814.7L373.3 815.9" stroke="#20186f" stroke-width="2.2" fill="none" stroke-linejoin="round"/>
<path d="M65.8 806.9L68.1 809.2L65.8 811.5L63.5 809.2Z" fill="#5a50c8" stroke="#20186f" stroke-width="1.3"/>
<path d="M83.9 806.5L86.2 808.8L83.9 811.1L81.6 808.8Z" fill="#5a50c8" stroke="#20186f" stroke-width="1.3"/>
<path d="M102 806.9L104.3 809.2L102 811.5L99.7 809.2Z" fill="#5a50c8" stroke="#20186f" stroke-width="1.3"/>
<path d="M120.1 806.9L122.4 809.2L120.1 811.5L117.8 809.2Z" fill="#5a50c8" stroke="#20186f" stroke-width="1.3"/>
<path d="M156.2 803.2L158.6 805.5L156.2 807.8L153.9 805.5Z" fill="#5a50c8" stroke="#20186f" stroke-width="1.3"/>
<path d="M192.4 811.5L194.7 813.8L192.4 816.1L190.1 813.8Z" fill="#5a50c8" stroke="#20186f" stroke-width="1.3"/>
<path d="M228.6 811.5L230.9 813.8L228.6 816.1L226.3 813.8Z" fill="#5a50c8" stroke="#20186f" stroke-width="1.3"/>
<path d="M264.8 814.4L267.1 816.7L264.8 819L262.5 816.7Z" fill="#5a50c8" stroke="#20186f" stroke-width="1.3"/>
<path d="M301 810.7L303.3 813L301 815.3L298.7 813Z" fill="#5a50c8" stroke="#20186f" stroke-width="1.3"/>
<path d="M337.2 812.4L339.5 814.7L337.2 817L334.9 814.7Z" fill="#5a50c8" stroke="#20186f" stroke-width="1.3"/>
<path d="M373.3 813.6L375.6 815.9L373.3 818.2L371 815.9Z" fill="#5a50c8" stroke="#20186f" stroke-width="1.3"/>
<path d="M65.8 814.7L83.9 815.1L102 814.7L120.1 815.9L156.2 816.7L192.4 817.2L228.6 817.2L264.8 817.2L301 817.2L337.2 817.2L373.3 817.2" stroke="#ec3052" stroke-width="2" fill="none" stroke-linejoin="round" stroke-dasharray="5 3.5"/>
<rect x="63" y="811.9" width="5.6" height="5.6" fill="#ec3052"/>
<rect x="81.1" y="812.3" width="5.6" height="5.6" fill="#ec3052"/>
<rect x="99.2" y="811.9" width="5.6" height="5.6" fill="#ec3052"/>
<rect x="117.3" y="813.1" width="5.6" height="5.6" fill="#ec3052"/>
<rect x="153.4" y="813.9" width="5.6" height="5.6" fill="#ec3052"/>
<rect x="189.6" y="814.4" width="5.6" height="5.6" fill="#ec3052"/>
<rect x="225.8" y="814.4" width="5.6" height="5.6" fill="#ec3052"/>
<rect x="262" y="814.4" width="5.6" height="5.6" fill="#ec3052"/>
<rect x="298.2" y="814.4" width="5.6" height="5.6" fill="#ec3052"/>
<rect x="334.4" y="814.4" width="5.6" height="5.6" fill="#ec3052"/>
<rect x="370.5" y="814.4" width="5.6" height="5.6" fill="#ec3052"/>
<path d="M65.8 817.6L83.9 817.2L102 817.2L120.1 817.6L156.2 817.6L192.4 817.6L228.6 817.6L264.8 817.6L301 817.6L337.2 817.6L373.3 817.6" stroke="#5aa64e" stroke-width="1.3" fill="none" stroke-linejoin="round"/>
<path d="M65.8 815.1L68.3 819.6L63.3 819.6Z" fill="none" stroke="#5aa64e" stroke-width="1.2"/>
<path d="M83.9 814.7L86.4 819.2L81.4 819.2Z" fill="none" stroke="#5aa64e" stroke-width="1.2"/>
<path d="M102 814.7L104.5 819.2L99.5 819.2Z" fill="none" stroke="#5aa64e" stroke-width="1.2"/>
<path d="M120.1 815.1L122.6 819.6L117.6 819.6Z" fill="none" stroke="#5aa64e" stroke-width="1.2"/>
<path d="M156.2 815.1L158.8 819.6L153.8 819.6Z" fill="none" stroke="#5aa64e" stroke-width="1.2"/>
<path d="M192.4 815.1L194.9 819.6L189.9 819.6Z" fill="none" stroke="#5aa64e" stroke-width="1.2"/>
<path d="M228.6 815.1L231.1 819.6L226.1 819.6Z" fill="none" stroke="#5aa64e" stroke-width="1.2"/>
<path d="M264.8 815.1L267.3 819.6L262.3 819.6Z" fill="none" stroke="#5aa64e" stroke-width="1.2"/>
<path d="M301 815.1L303.5 819.6L298.5 819.6Z" fill="none" stroke="#5aa64e" stroke-width="1.2"/>
<path d="M337.2 815.1L339.7 819.6L334.7 819.6Z" fill="none" stroke="#5aa64e" stroke-width="1.2"/>
<path d="M373.3 815.1L375.8 819.6L370.8 819.6Z" fill="none" stroke="#5aa64e" stroke-width="1.2"/>
<path d="M65.8 817.2L83.9 817.2L102 817.2L120.1 817.2L156.2 817.2L192.4 817.2L228.6 817.2L264.8 817.2L301 817.2L337.2 817.2L373.3 817.2" stroke="#f2a263" stroke-width="1.4" fill="none" stroke-linejoin="round"/>
<path d="M63.6 815L68 819.4M68 815L63.6 819.4M65.8 814.5V819.9" stroke="#f2a263" stroke-width="1.1" fill="none"/>
<path d="M81.7 815L86.1 819.4M86.1 815L81.7 819.4M83.9 814.5V819.9" stroke="#f2a263" stroke-width="1.1" fill="none"/>
<path d="M99.8 815L104.2 819.4M104.2 815L99.8 819.4M102 814.5V819.9" stroke="#f2a263" stroke-width="1.1" fill="none"/>
<path d="M117.9 815L122.3 819.4M122.3 815L117.9 819.4M120.1 814.5V819.9" stroke="#f2a263" stroke-width="1.1" fill="none"/>
<path d="M154.1 815L158.4 819.4M158.4 815L154.1 819.4M156.2 814.5V819.9" stroke="#f2a263" stroke-width="1.1" fill="none"/>
<path d="M190.2 815L194.6 819.4M194.6 815L190.2 819.4M192.4 814.5V819.9" stroke="#f2a263" stroke-width="1.1" fill="none"/>
<path d="M226.4 815L230.8 819.4M230.8 815L226.4 819.4M228.6 814.5V819.9" stroke="#f2a263" stroke-width="1.1" fill="none"/>
<path d="M262.6 815L267 819.4M267 815L262.6 819.4M264.8 814.5V819.9" stroke="#f2a263" stroke-width="1.1" fill="none"/>
<path d="M298.8 815L303.2 819.4M303.2 815L298.8 819.4M301 814.5V819.9" stroke="#f2a263" stroke-width="1.1" fill="none"/>
<path d="M335 815L339.4 819.4M339.4 815L335 819.4M337.2 814.5V819.9" stroke="#f2a263" stroke-width="1.1" fill="none"/>
<path d="M371.1 815L375.5 819.4M375.5 815L371.1 819.4M373.3 814.5V819.9" stroke="#f2a263" stroke-width="1.1" fill="none"/>
<line x1="331.5" y1="708.8" x2="357.7" y2="708.8" stroke="#20186f" stroke-width="1.4"/>
<path d="M344.6 706.5L346.9 708.8L344.6 711.1L342.3 708.8Z" fill="#5a50c8" stroke="#20186f" stroke-width="1.3"/>
<text transform="translate(364.8,713.3) scale(1.2,1)" class="lgl" style="word-spacing:1.07px">AAV 8 ( n = 7 )</text>
<line x1="331.5" y1="727.8" x2="357.7" y2="727.8" stroke="#ec3052" stroke-width="1.6" stroke-dasharray="4 3.5"/>
<rect x="341.8" y="725" width="5.6" height="5.6" fill="#ec3052"/>
<text transform="translate(364.8,732.3) scale(1.2,1)" class="lgl" style="word-spacing:1.07px">AAV 7 ( n = 5 )</text>
<line x1="331.5" y1="747" x2="357.7" y2="747" stroke="#5aa64e" stroke-width="1.6"/>
<path d="M344.6 744.5L347.1 749L342.1 749Z" fill="none" stroke="#5aa64e" stroke-width="1.2"/>
<text transform="translate(364.8,751.5) scale(1.2,1)" class="lgl" style="word-spacing:1.07px">AAV 5 ( n = 5 )</text>
<line x1="331.5" y1="765.3" x2="357.7" y2="765.3" stroke="#f2a263" stroke-width="1.6"/>
<path d="M342.4 763.1L346.8 767.5M346.8 763.1L342.4 767.5M344.6 762.6V768" stroke="#f2a263" stroke-width="1.1" fill="none"/>
<text transform="translate(364.8,769.8) scale(1.2,1)" class="lgl" style="word-spacing:1.07px">AAV 2 ( n = 4 )</text>
</svg></body></html>
